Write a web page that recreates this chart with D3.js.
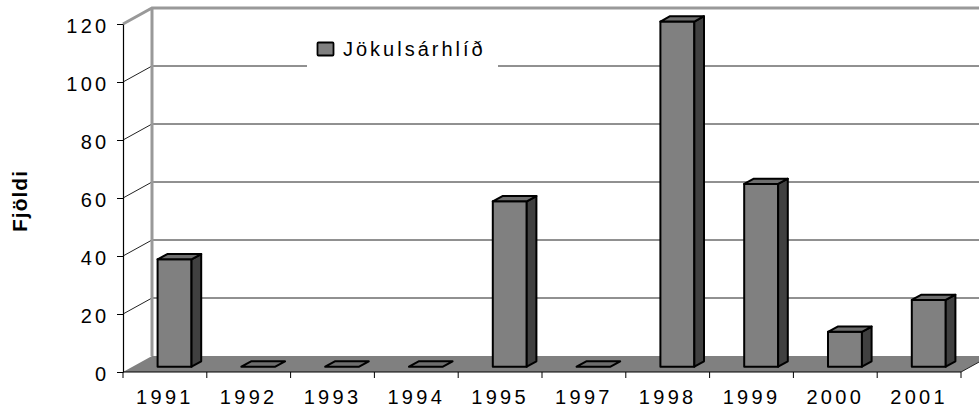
<!DOCTYPE html>
<html>
<head>
<meta charset="utf-8">
<script src="https://cdn.jsdelivr.net/npm/d3@7"></script>
<style>
  body { margin: 0; background: #fff; }
  svg { display: block; font-family: Arial, "Liberation Sans", sans-serif; }
</style>
</head>
<body>
<svg id="chart" width="979" height="409"></svg>
<script>
// data
const years = ['1991', '1992', '1993', '1994', '1995', '1997', '1998', '1999', '2000', '2001'];
const counts = [37, 0, 0, 0, 57, 0, 119, 63, 12, 23];
const yTicks = [0, 20, 40, 60, 80, 100, 120];
const seriesName = 'Jökulsárhlíð';
const axisTitle = 'Fjöldi';

const svg = d3.select('#chart');
const front = {left: 123, right: 961, bottom: 372, top: 24};
const DX = 29, DY = -16;          // depth of the 3d box
const barD0 = 1 / 3, barD1 = 2 / 3; // bar depth inside the box
const fontSize = 20;
const spacing = 3.3;

const x = d3.scaleBand().domain(years).range([front.left, front.right]);
const y = d3.scaleLinear().domain([0, 120]).range([front.bottom, front.top]);
const barW = x.bandwidth() * 0.405;

const wall = svg.append('g');
// back wall gridlines
wall.selectAll('.grid')
  .data(yTicks.filter((d) => d > 0 && d < 120))
  .join('line')
  .attr('x1', front.left + DX).attr('x2', 979)
  .attr('y1', (d) => y(d) + DY).attr('y2', (d) => y(d) + DY)
  .attr('stroke', '#222').attr('stroke-width', 1);
// side wall diagonals
wall.selectAll('.diag')
  .data(yTicks.filter((d) => d > 0 && d < 120))
  .join('line')
  .attr('x1', front.left).attr('y1', (d) => y(d))
  .attr('x2', front.left + DX).attr('y2', (d) => y(d) + DY)
  .attr('stroke', '#222').attr('stroke-width', 1);
// grey box edges
wall.append('path')
  .attr('d', `M${front.left},${y(120)} L${front.left + DX},${y(120) + DY} L979,${y(120) + DY}` +
    ` M${front.left + DX},${y(120) + DY} L${front.left + DX},${y(0) + DY}`)
  .attr('fill', 'none').attr('stroke', '#999').attr('stroke-width', 3);

// floor
svg.append('path')
  .attr('d', `M${front.left},${y(0)} L${front.right},${y(0)} L${front.right + DX},${y(0) + DY} L${front.left + DX},${y(0) + DY} Z`)
  .attr('fill', '#808080');
svg.append('line')
  .attr('x1', front.right).attr('y1', y(0))
  .attr('x2', front.right + DX).attr('y2', y(0) + DY)
  .attr('stroke', '#222').attr('stroke-width', 1);

// legend
const legend = svg.append('g');
legend.append('rect').attr('x', 307).attr('y', 26).attr('width', 191).attr('height', 44).attr('fill', '#fff');
legend.append('rect').attr('x', 317.5).attr('y', 42.5).attr('width', 16).attr('height', 13)
  .attr('fill', '#808080').attr('stroke', '#000').attr('stroke-width', 1.8).attr('rx', 1);
legend.append('text')
  .attr('x', 343).attr('y', 55.5)
  .attr('font-size', fontSize).attr('letter-spacing', 3).text(seriesName);

// bars
const bars = svg.append('g').selectAll('g')
  .data(years.map((d, i) => ({year: d, value: counts[i]})))
  .join('g');

function pt(px, py, depth) {
  return [px + DX * depth, py + DY * depth];
}
bars.each(function(d) {
  const g = d3.select(this);
  const xl = x(d.year) + (x.bandwidth() - barW) / 2;
  const xr = xl + barW;
  const yt = y(d.value), yb = y(0);
  const line = d3.line();
  const faces = [];
  if (d.value > 0) {
    faces.push({fill: '#808080', p: [pt(xl, yb, barD0), pt(xr, yb, barD0), pt(xr, yt, barD0), pt(xl, yt, barD0)]});
    faces.push({fill: '#404040', p: [pt(xr, yb, barD0), pt(xr, yb, barD1), pt(xr, yt, barD1), pt(xr, yt, barD0)]});
  }
  faces.push({fill: '#6e6e6e', p: [pt(xl, yt, barD0), pt(xr, yt, barD0), pt(xr, yt, barD1), pt(xl, yt, barD1)]});
  faces.forEach((f) => {
    g.append('path').attr('d', line(f.p) + 'Z').attr('fill', f.fill)
      .attr('stroke', '#000').attr('stroke-width', 2).attr('stroke-linejoin', 'round');
  });
});

// y axis
const yAxis = svg.append('g')
  .attr('transform', `translate(${front.left},0)`)
  .call(d3.axisLeft(y).tickValues(yTicks).tickSize(6).tickSizeOuter(0).tickPadding(0));
yAxis.select('.domain').attr('stroke', '#000').attr('stroke-width', 1.2);
yAxis.selectAll('.tick line').attr('stroke', '#000');
yAxis.selectAll('.tick text')
  .attr('x', -13.5).attr('y', 8.5).attr('dy', null)
  .attr('font-size', fontSize).attr('letter-spacing', spacing).attr('fill', '#000')
  .attr('font-family', 'Arial, "Liberation Sans", sans-serif');

// x axis
const xAxis = svg.append('g').attr('transform', `translate(0,${front.bottom})`);
xAxis.append('line').attr('x1', front.left).attr('x2', front.right).attr('stroke', '#000').attr('stroke-width', 1.2);
xAxis.selectAll('.xt')
  .data(years.concat(['end']))
  .join('line')
  .attr('x1', (d) => d === 'end' ? front.right : x(d))
  .attr('x2', (d) => d === 'end' ? front.right : x(d))
  .attr('y1', 0).attr('y2', 6).attr('stroke', '#000');
xAxis.selectAll('.xl')
  .data(years)
  .join('text')
  .attr('x', (d) => x(d) + x.bandwidth() / 2)
  .attr('y', 32)
  .attr('text-anchor', 'middle')
  .attr('font-size', fontSize).attr('letter-spacing', spacing)
  .text((d) => d);

// axis title
svg.append('text')
  .attr('transform', 'translate(27,201) rotate(-90)')
  .attr('text-anchor', 'middle')
  .attr('font-size', 21).attr('font-weight', 'bold').attr('letter-spacing', 1)
  .text(axisTitle);
</script>
</body>
</html>
